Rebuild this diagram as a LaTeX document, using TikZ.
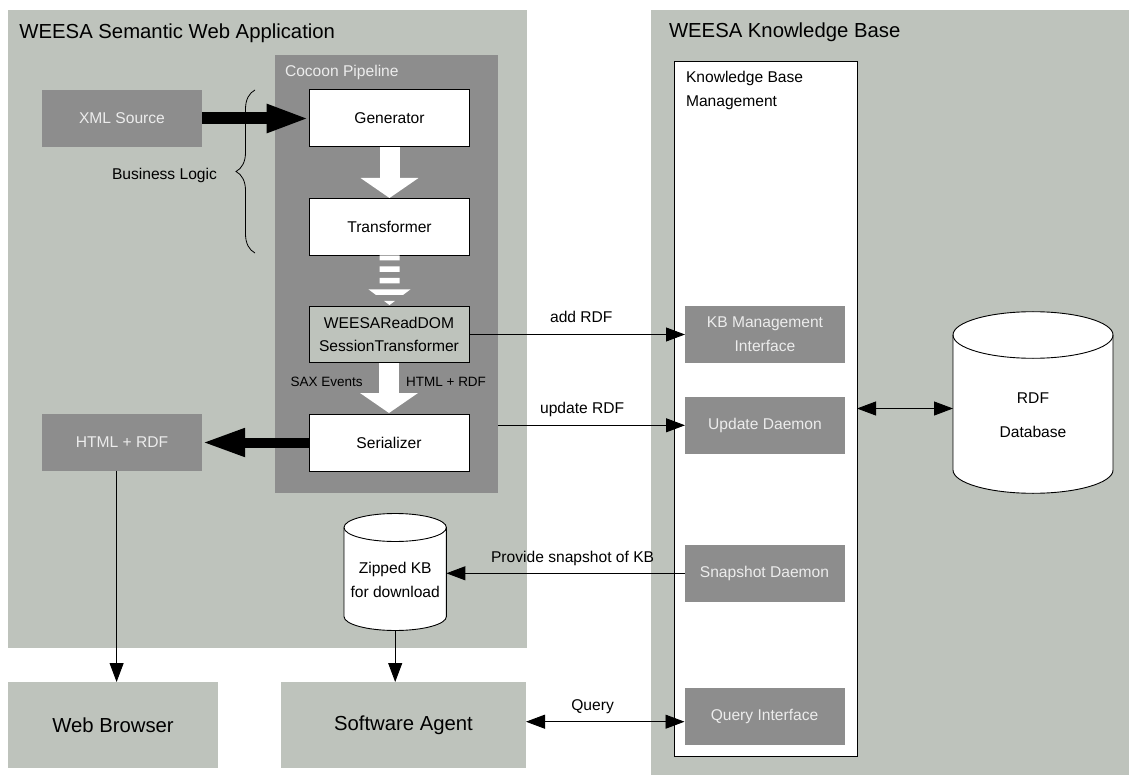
\documentclass[tikz,border=0pt]{standalone}
\usepackage{fontspec}
\setmainfont{Liberation Sans}
\usetikzlibrary{arrows.meta,decorations.pathreplacing,calc}
\definecolor{panelgrey}{RGB}{190,195,188}
\definecolor{boxgrey}{RGB}{141,141,141}
\definecolor{boxtext}{RGB}{236,236,236}

\begin{document}
\begin{tikzpicture}[x=1pt,y=1pt,
  every node/.style={inner sep=0pt, outer sep=0pt},
  txt/.style={font=\fontsize{15.6}{23.4}\selectfont},
  small/.style={font=\fontsize{13.5}{16}\selectfont},
  big/.style={font=\fontsize{20.3}{24}\selectfont},
  panel/.style={fill=panelgrey},
  darkbox/.style={txt, fill=boxgrey, text=boxtext, minimum width=160pt, minimum height=56.7pt, align=center},
  stage/.style={txt, fill=white, draw=black, line width=0.9pt, minimum width=160pt, minimum height=57pt, align=center},
  link/.style={draw=black, line width=0.9pt, -{Triangle[length=19pt,width=14pt]}},
  duplex/.style={draw=black, line width=0.9pt, {Triangle[length=19pt,width=14pt]}-{Triangle[length=19pt,width=14pt]}},
  heavy/.style={draw=black, -{Triangle[length=43pt,width=26pt]}},
  flow/.style={draw=white, line width=20pt, -{Triangle[length=20pt,width=57pt]}},
  cyl/.style={draw=black, line width=0.9pt}
]
\useasboundingbox (0,0) rectangle (1129,-775);
\fill[white] (0,0) rectangle (1129,-775);

% ---- Semantic web application ----
\node[panel, minimum width=519pt, minimum height=637.5pt, anchor=north west] (app) at (8,-10) {};
\node[big, anchor=base west] (apptitle) at (19.5,-39) {WEESA Semantic Web Application};

\node[fill=boxgrey, minimum width=223pt, minimum height=438pt, anchor=north west] (pipe) at (275,-55) {};
\node[txt, text=boxtext, anchor=base west] (pipetitle) at (285,-77) {Cocoon Pipeline};

\node[darkbox] (xml) at (122,-118.5) {XML Source};
\node[darkbox] (html) at (122,-442.3) {HTML + RDF};

\node[stage] (gen) at (389.5,-118) {Generator};
\node[stage] (trans) at (389.5,-226.5) {Transformer};
\node[stage, fill=panelgrey, minimum height=56.7pt] (weesa) at (389,-334.5) {WEESAReadDOM\\SessionTransformer};
\node[stage] (ser) at (389,-442.5) {Serializer};

\node[small, anchor=base west] (saxlbl) at (290.7,-386) {SAX Events};
\node[small, anchor=base east] (htmllbl) at (486,-386) {HTML + RDF};

% business logic brace
\draw[line width=0.8pt, decorate, decoration={brace, amplitude=19pt}] (255,-253) -- (255,-90);
\node[txt, anchor=base west] (bizlogic) at (112,-180) {Business Logic};

% pipeline flow arrows
\draw[flow, shorten <=0.5pt] (gen.south) -- (trans.north);
\draw[flow, shorten <=0.5pt, shorten >=1pt] (weesa.south) -- (ser.north);
\begin{scope}[shift={(trans.south)}]
  \clip (-30,-0.5) rectangle (30,-5.5) (-30,-11.5) rectangle (30,-17) (-30,-23) rectangle (30,-28.5)
        (-30,-34.5) rectangle (30,-40) (-30,-46) rectangle (30,-51.5);
  \fill[white] (-10,-0.5) -- (10,-0.5) -- (10,-34) -- (21.5,-34) -- (0,-50) -- (-21.5,-34) -- (-10,-34) -- cycle;
\end{scope}

\draw[heavy, line width=12pt] (xml.east) -- (xml.east -| gen.west);
\draw[heavy, line width=10pt] (ser.west) -- (ser.west -| html.east);

% zipped knowledge base
\node[minimum width=102.4pt, minimum height=117pt] (zip) at (395.2,-572) {};
\draw[cyl, fill=white] ([yshift=-14pt]zip.north west) -- ([yshift=14pt]zip.south west)
  arc[start angle=180, end angle=360, x radius=51.2pt, y radius=14pt]
  -- ([yshift=-14pt]zip.north east)
  arc[start angle=0, end angle=180, x radius=51.2pt, y radius=14pt] -- cycle;
\draw[cyl] ([yshift=-14pt]zip.north west) arc[start angle=180, end angle=360, x radius=51.2pt, y radius=14pt];
\node[txt, anchor=base] (ziplbla) at (395.2,-573) {Zipped KB};
\node[txt, anchor=base] (ziplblb) at (395.2,-597) {for download};

% ---- clients ----
\node[panel, big, minimum width=210pt, minimum height=86pt] (browser) at (113,-725) {Web Browser};
\node[panel, big, minimum width=245pt, minimum height=86pt] (agent) at (403.5,-725) {Software Agent};

% ---- knowledge base ----
\node[panel, minimum width=478pt, minimum height=765pt, anchor=north west] (kb) at (651,-10) {};
\node[big, anchor=base west] (kbtitle) at (669,-38) {WEESA Knowledge Base};

\node[fill=white, draw=black, line width=0.9pt, minimum width=183pt, minimum height=695pt, anchor=north west] (kbm) at (674,-61) {};
\node[txt, anchor=base west] (kbmlbla) at (686,-83) {Knowledge Base};
\node[txt, anchor=base west] (kbmlblb) at (686,-107) {Management};

\node[darkbox] (kbmi) at (765,-334.3) {KB Management\\Interface};
\node[darkbox] (upd) at (765,-425.3) {Update Daemon};
\node[darkbox] (snap) at (764.5,-573.3) {Snapshot Daemon};
\node[darkbox] (query) at (764.5,-716.3) {Query Interface};

% RDF database
\node[minimum width=160pt, minimum height=181.6pt] (rdf) at (1033,-402.5) {};
\draw[cyl, fill=white] ([yshift=-23.3pt]rdf.north west) -- ([yshift=23.3pt]rdf.south west)
  arc[start angle=180, end angle=360, x radius=80pt, y radius=23.3pt]
  -- ([yshift=-23.3pt]rdf.north east)
  arc[start angle=0, end angle=180, x radius=80pt, y radius=23.3pt] -- cycle;
\draw[cyl] ([yshift=-23.3pt]rdf.north west) arc[start angle=180, end angle=360, x radius=80pt, y radius=23.3pt];
\node[txt, anchor=base] (rdflbla) at (1033,-403) {RDF};
\node[txt, anchor=base] (rdflblb) at (1033,-437) {Database};

% ---- connectors ----
\draw[link] (weesa.east) -- (weesa.east -| kbmi.west)
  node[txt, pos=0.52, anchor=base, yshift=11.5pt] (addlbl) {add RDF};
\draw[link] (upd.west -| pipe.east) -- (upd.west)
  node[txt, pos=0.45, anchor=base, yshift=11.5pt] (updlbl) {update RDF};
\draw[link] (snap.west) -- (snap.west -| zip.east)
  node[txt, pos=0.47, anchor=base, yshift=11.3pt] (snaplbl) {Provide snapshot of KB};
\draw[link] (zip.south) -- (zip.south |- agent.north);
\draw[link] ([xshift=-5.4pt]html.south) -- ([xshift=-5.4pt]html.south |- browser.north);
\draw[duplex] (kbm.east) -- (kbm.east -| rdf.west);
\draw[duplex] ([yshift=3.3pt]agent.east) -- ([yshift=3.3pt]agent.east -| query.west)
  node[txt, pos=0.42, anchor=base, yshift=11.7pt] (querylbl) {Query};
\end{tikzpicture}
\end{document}
